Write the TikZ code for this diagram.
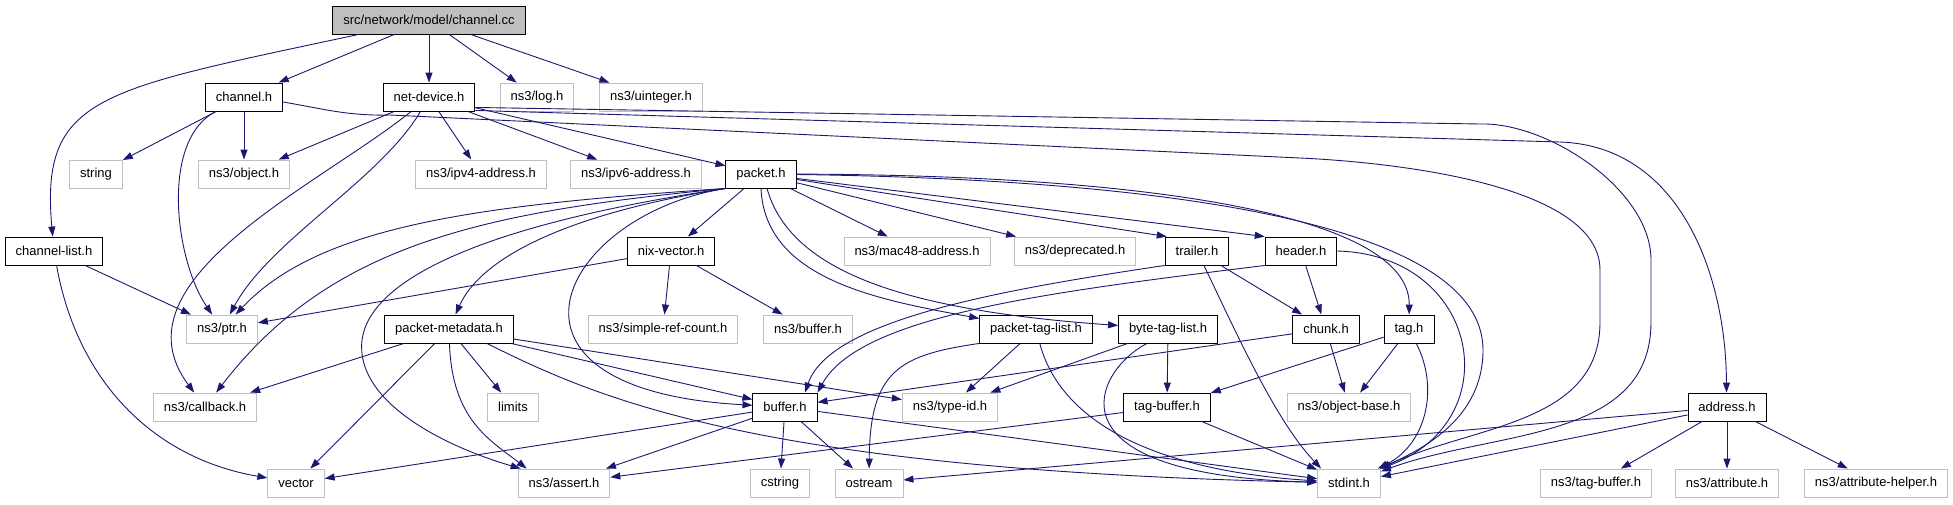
\documentclass[tikz,border=0pt]{standalone}
\usepackage{fontspec}
\setmainfont{Liberation Sans}
\usetikzlibrary{positioning,arrows.meta}
\definecolor{edgeblue}{HTML}{191970}
\definecolor{boxgray}{HTML}{BFBFBF}
\tikzset{
    >={Triangle[length=10pt,width=7pt]}, % filled doxygen heads
    file/.style={draw=black, line width=0.9pt, fill=white, font=\fontsize{13}{15}\selectfont,
        inner xsep=10.5pt, inner ysep=0pt, minimum height=28pt},
    sysfile/.style={file, draw=boxgray},
    mainfile/.style={file, fill=boxgray},
    every edge/.append style={->, draw=edgeblue, line width=0.9pt},
    dep/.style={->, draw=edgeblue, line width=0.9pt},
}

\begin{document}
\begin{tikzpicture}[x=1pt,y=-1pt]
            \useasboundingbox (0,0) rectangle (1953,504);

            \node[mainfile] (root) at (429,20) {src/network/model/channel.cc};

            % first level
            \node[file] (chan) at (244,97) {channel.h};
            \node[file] (netdev) at (429,97) {net-device.h};
            \node[sysfile] (log) at (537,97) {ns3/log.h};
            \node[sysfile] (uint) at (651,97) {ns3/uinteger.h};

            % second level
            \node[sysfile] (string) at (96,174) {string};
            \node[sysfile] (object) at (244,174) {ns3/object.h};
            \node[sysfile] (ipv4) at (481,174) {ns3/ipv4-address.h};
            \node[sysfile] (ipv6) at (636,174) {ns3/ipv6-address.h};
            \node[file] (packet) at (761,174) {packet.h};

            % third level
            \node[file] (chlist) at (54,251) {channel-list.h};
            \node[file] (nix) at (671,251) {nix-vector.h};
            \node[sysfile] (mac48) at (917,251) {ns3/mac48-address.h};
            \node[sysfile] (depr) at (1075,251) {ns3/deprecated.h};
            \node[file] (trailer) at (1197,251) {trailer.h};
            \node[file] (header) at (1301,251) {header.h};

            % fourth level
            \node[sysfile] (ptr) at (222,329) {ns3/ptr.h};
            \node[file] (pmeta) at (449,329) {packet-metadata.h};
            \node[sysfile] (refcount) at (663,329) {ns3/simple-ref-count.h};
            \node[sysfile] (nsbuffer) at (808,329) {ns3/buffer.h};
            \node[file] (ptaglist) at (1036,329) {packet-tag-list.h};
            \node[file] (btaglist) at (1168,329) {byte-tag-list.h};
            \node[file] (chunk) at (1326,329) {chunk.h};
            \node[file] (tag) at (1409,329) {tag.h};

            % fifth level
            \node[sysfile] (callback) at (205,407) {ns3/callback.h};
            \node[sysfile] (limits) at (513,407) {limits};
            \node[file] (buffer) at (785,407) {buffer.h};
            \node[sysfile] (typeid) at (950,407) {ns3/type-id.h};
            \node[file] (tagbuf) at (1167,407) {tag-buffer.h};
            \node[sysfile] (objbase) at (1349,407) {ns3/object-base.h};
            \node[file] (address) at (1727,407) {address.h};

            % bottom level
            \node[sysfile] (vector) at (296,483) {vector};
            \node[sysfile] (assert) at (564,483) {ns3/assert.h};
            \node[sysfile] (cstring) at (780,483) {cstring};
            \node[sysfile] (ostream) at (869,483) {ostream};
            \node[sysfile] (stdint) at (1349,483) {stdint.h};
            \node[sysfile] (nstagbuf) at (1596,483) {ns3/tag-buffer.h};
            \node[sysfile] (attr) at (1727,483) {ns3/attribute.h};
            \node[sysfile] (attrhelp) at (1876,483) {ns3/attribute-helper.h};

            % straight includes
            \draw
            (root) edge (chan)
            (root) edge (netdev)
            (root) edge (log)
            (root) edge (uint)

            (chan) edge (string)
            (chan) edge (object)

            (netdev) edge (object)
            (netdev) edge (ipv4)
            (netdev) edge (ipv6)
            (netdev) edge (packet)

            (packet) edge (nix)
            (packet) edge (mac48)
            (packet) edge (depr)
            (packet) edge ([xshift=2pt]trailer.north west)
            (packet) edge (header.north west)

            (chlist) edge (ptr)
            (nix) edge (ptr)
            (nix) edge (refcount)
            (nix) edge (nsbuffer)

            (pmeta) edge (callback)
            (pmeta) edge (limits)
            (pmeta) edge (vector)
            (pmeta) edge (buffer)
            (pmeta) edge (typeid)

            (trailer) edge (chunk)
            (header) edge (chunk)
            (ptaglist) edge (typeid)
            (btaglist) edge (typeid)
            (btaglist) edge (tagbuf)
            (chunk) edge (buffer)
            (chunk) edge (objbase)
            (tag) edge (objbase)
            (tag) edge (tagbuf)

            (buffer) edge (vector)
            (buffer) edge (assert)
            (buffer) edge (cstring)
            (buffer) edge (ostream)
            (buffer) edge (stdint)
            (tagbuf) edge (assert)
            (tagbuf) edge (stdint)

            (address) edge (ostream)
            (address) edge (stdint)
            (address) edge (nstagbuf)
            (address) edge (attr)
            (address) edge (attrhelp)
            ;

            % curved includes, top part
            \draw[dep] ([xshift=26pt]root.south west) .. controls (100,90) and (40,95) .. (chlist);
            \draw[dep] (chan) .. controls (160,140) and (175,260) .. (ptr);
            \draw[dep] ([yshift=-5pt]chan.east) .. controls (324,109) and (348,116) .. (390,115) -- (1300,158)
                .. controls (1387,162) and (1600,183) .. (1600,270) -- (1600,322)
                .. controls (1600,425) and (1473,425) .. (stdint.25);
            \draw[dep] (netdev) .. controls (380,180) and (270,240) .. (ptr);
            \draw[dep] (netdev) .. controls (320,185) and (110,280) .. (callback);
            \draw[dep] ([yshift=4pt]netdev.south east) -- (1480,124)
                .. controls (1548,122) and (1651,190) .. (1651,260) -- (1651,322)
                .. controls (1651,442) and (1494,430) .. (stdint.20);
            \draw[dep] ([yshift=1pt]netdev.south east) -- (1560,142)
                .. controls (1680,146) and (1726,275) .. (address.92);

            % packet.h, left fan
            \draw[dep] (packet.south west) .. controls (480,205) and (320,225) .. (ptr);
            \draw[dep] (packet.south west) .. controls (480,212) and (330,245) .. (callback);
            \draw[dep] (packet.south west) .. controls (480,225) and (370,280) .. (362,340)
                .. controls (355,400) and (440,445) .. ([xshift=3pt]assert.north west);
            \draw[dep] (packet.south west) .. controls (560,215) and (480,260) .. (pmeta);
            \draw[dep] (packet.south west) .. controls (560,215) and (470,390) .. (buffer);

            % packet.h, right side
            \draw[dep] (packet.south) .. controls (765,280) and (880,300) .. (ptaglist);
            \draw[dep] ([xshift=6pt]packet.south) .. controls (790,270) and (900,310) .. (btaglist);
            \draw[dep] (packet) .. controls (1150,175) and (1410,215) .. (tag);
            \draw[dep] (packet) .. controls (1200,180) and (1483,230) .. (1483,350)
                .. controls (1483,420) and (1420,450) .. (stdint);

            % lower levels
            \draw[dep] (chlist) .. controls (77,380) and (152,458) .. (vector.170);
            \draw[dep] (pmeta) .. controls (452,420) and (490,440) .. ([xshift=9pt]assert.north west);
            \draw[dep] ([xshift=38pt]pmeta.south) .. controls (600,400) and (760,470) .. (stdint);
            \draw[dep] (trailer.south west) .. controls (1000,290) and (830,320) .. ([xshift=20pt]buffer.north);
            \draw[dep] (trailer) .. controls (1235,330) and (1275,420) .. ([xshift=4pt]stdint.north west);
            \draw[dep] (header.south west) .. controls (1050,292) and (860,315) .. (buffer.north east);
            \draw[dep] (header.east) .. controls (1480,255) and (1510,420) .. (stdint.north east);
            \draw[dep] (tag) .. controls (1440,390) and (1425,445) .. ([xshift=-3pt]stdint.north east);
            \draw[dep] (ptaglist.south west) .. controls (900,355) and (870,370) .. (ostream);
            \draw[dep] (ptaglist) .. controls (1060,420) and (1150,470) .. (stdint);
            \draw[dep] ([xshift=-21pt]btaglist.south) .. controls (1095,370) and (1040,475) .. (stdint);
\end{tikzpicture}
\end{document}
